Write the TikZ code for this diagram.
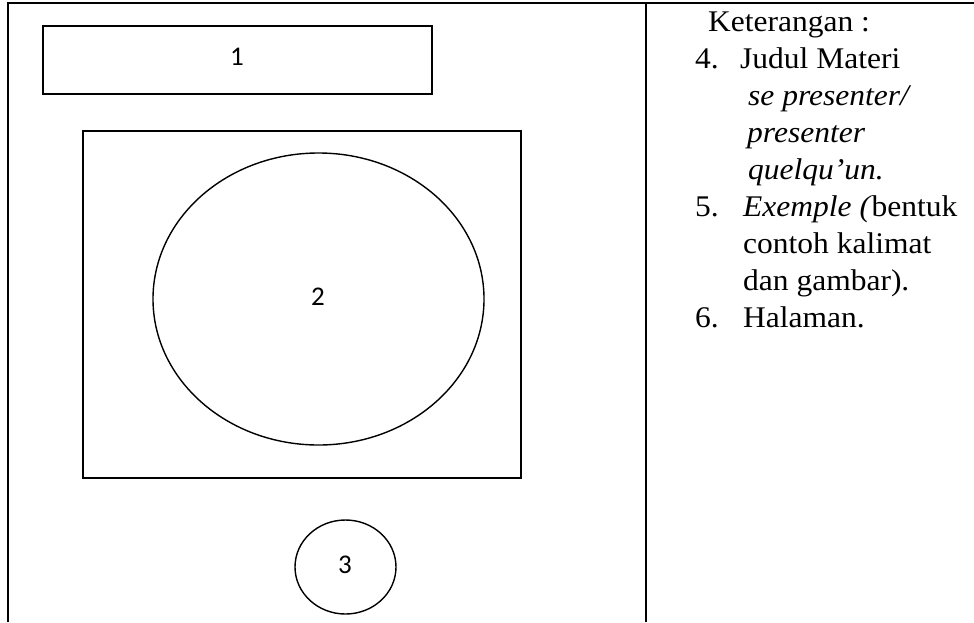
\documentclass[tikz,border=0pt]{standalone}
\usepackage{fontspec}
\setmainfont[FakeStretch=1.05]{Liberation Serif}
\newfontfamily\calibrifont{Carlito}
\usetikzlibrary{shapes.geometric}
\begin{document}
\begin{tikzpicture}[x=1pt,y=1pt,
  tableline/.style={line width=2pt,black},
  shapebox/.style={draw,line width=1.4pt,inner sep=0pt,outer sep=0pt},
  numlabel/.style={font=\calibrifont\fontsize{27}{32}\selectfont,inner sep=0pt},
  ket/.style={font=\fontsize{30}{37}\selectfont,inner sep=0pt,anchor=base west}]
\useasboundingbox (0,0) rectangle (974,-622);
% table frame
\draw[tableline] (7.5,-622) -- (7.5,-3) -- (974,-3);
\draw[tableline] (646,-3) -- (646,-622);
% left column shapes
\node[shapebox,rectangle,minimum width=389pt,minimum height=68pt] (r1) at (237.5,-60) {};
\node[numlabel] (t1) at (237,-57) {1};
\node[shapebox,rectangle,minimum width=438pt,minimum height=347pt] (r2) at (302,-304.5) {};
\node[shapebox,ellipse,minimum width=331pt,minimum height=292pt] (e2) at (318.5,-299) {};
\node[numlabel] (t2) at (318,-297) {2};
\node[shapebox,ellipse,minimum width=101pt,minimum height=94pt] (c3) at (345.5,-567) {};
\node[numlabel] (t3) at (345,-565) {3};
% right column text
\node[ket] (k0) at (708,-31) {Keterangan :};
\node[ket] (n4) at (695,-68) {4.};
\node[ket] (k4) at (740,-68) {Judul Materi};
\node[ket] (k4a) at (748,-105) {\itshape se presenter/};
\node[ket] (k4b) at (747,-142) {\itshape presenter};
\node[ket] (k4c) at (748,-179) {\itshape quelqu’un.};
\node[ket] (n5) at (695,-216) {5.};
\node[ket] (k5) at (743,-216) {\textit{Exemple (}bentuk};
\node[ket] (k5a) at (743,-253) {contoh kalimat};
\node[ket] (k5b) at (743,-290) {dan gambar).};
\node[ket] (n6) at (695,-327) {6.};
\node[ket] (k6) at (743,-327) {Halaman.};
\end{tikzpicture}
\end{document}
